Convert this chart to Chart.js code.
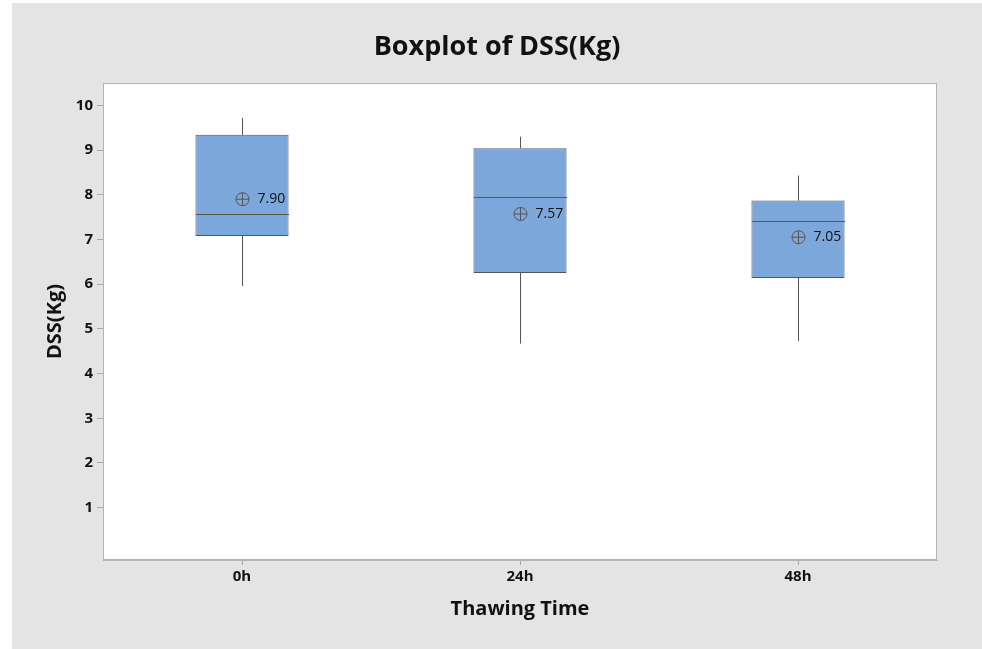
<!DOCTYPE html>
<html lang="en">
<head>
    <meta charset="utf-8">
    <title>Boxplot of DSS(Kg)</title>
    <script src="https://cdn.jsdelivr.net/npm/chart.js@4.4.1/dist/chart.umd.min.js"></script>
    <style>
        body { margin: 0; background: #fff; }
        canvas { display: block; }
    </style>
</head>
<body>
    <canvas id="chart" width="982" height="649"></canvas>
    <script>
        // values
        const categories = ['0h', '24h', '48h'];
        const whiskerLow = [5.96, 4.67, 4.73];
        const q1 = [7.08, 6.25, 6.14];
        const medians = [7.58, 7.95, 7.42];
        const q3 = [9.34, 9.04, 7.87];
        const whiskerHigh = [9.72, 9.30, 8.43];
        const means = [7.90, 7.57, 7.05];
        const yTicks = [1, 2, 3, 4, 5, 6, 7, 8, 9, 10];

        const lineCol = '#555555';
        const fontFam = '"Open Sans", "Noto Sans", sans-serif';

        // gray panel + plot frame + title
        const backdrop = {
            id: 'backdrop',
            beforeDraw(chart) {
                const c = chart.ctx, a = chart.chartArea;
                c.save();
                c.fillStyle = '#fff';
                c.fillRect(0, 0, chart.width, chart.height);
                c.fillStyle = '#e4e4e4';
                c.fillRect(12, 3, chart.width - 12, chart.height - 3);
                c.fillStyle = '#fff';
                c.fillRect(a.left, a.top, a.width, a.height);
                c.fillStyle = '#111';
                c.font = 'bold 27px ' + fontFam;
                c.textAlign = 'center';
                c.textBaseline = 'middle';
                c.fillText('Boxplot of DSS(Kg)', 497, 47);
                c.restore();
            },
            afterDraw(chart) {
                const c = chart.ctx, a = chart.chartArea;
                c.save();
                c.strokeStyle = '#b4b4b4';
                c.lineWidth = 1;
                c.strokeRect(a.left + 0.5, a.top + 0.5, a.width - 1, a.height - 1);
                c.restore();
            }
        };

        // whiskers, median lines and mean symbols
        const boxParts = {
            id: 'boxParts',
            afterDatasetsDraw(chart) {
                const c = chart.ctx;
                const xs = chart.scales.x, ys = chart.scales.y;
                const bars = chart.getDatasetMeta(0).data;
                c.save();
                c.strokeStyle = lineCol;
                c.lineWidth = 1;
                categories.forEach((cat, i) => {
                    const x = Math.round(xs.getPixelForValue(i)) + 0.5;
                    const half = bars[i].width / 2;
                    c.beginPath();
                    c.moveTo(x, ys.getPixelForValue(q3[i]));
                    c.lineTo(x, ys.getPixelForValue(whiskerHigh[i]));
                    c.moveTo(x, ys.getPixelForValue(q1[i]));
                    c.lineTo(x, ys.getPixelForValue(whiskerLow[i]));
                    const my = Math.round(ys.getPixelForValue(medians[i])) + 0.5;
                    c.moveTo(x - half, my);
                    c.lineTo(x + half, my);
                    c.stroke();

                    const py = ys.getPixelForValue(means[i]);
                    const r = 6.5;
                    c.beginPath();
                    c.arc(x, py, r, 0, Math.PI * 2);
                    c.moveTo(x - r, py);
                    c.lineTo(x + r, py);
                    c.moveTo(x, py - r);
                    c.lineTo(x, py + r);
                    c.stroke();

                    c.fillStyle = '#111';
                    c.font = '14px ' + fontFam;
                    c.textAlign = 'left';
                    c.textBaseline = 'middle';
                    c.fillText(means[i].toFixed(2), x + 15, py);
                });
                c.restore();
            }
        };

        const boxes = categories.map((c, i) => [q1[i], q3[i]]);

        new Chart(document.getElementById('chart'), {
            type: 'bar',
            data: {
                labels: categories,
                datasets: [{
                    data: boxes,
                    backgroundColor: '#7ba7da',
                    borderColor: lineCol,
                    borderWidth: 1,
                    borderSkipped: false,
                    categoryPercentage: 1,
                    barPercentage: 0.335
                }]
            },
            options: {
                responsive: false,
                animation: false,
                layout: { padding: { top: 83, right: 45, left: 0, bottom: 0 } },
                plugins: {
                    legend: { display: false },
                    tooltip: { enabled: false },
                    title: { display: false }
                },
                scales: {
                    x: {
                        grid: { offset: false, drawOnChartArea: false, drawTicks: true, tickLength: 5, color: '#aaa' },
                        border: { color: '#b4b4b4' },
                        ticks: { color: '#111', font: { family: fontFam, size: 15, weight: 'bold' }, padding: 3 },
                        title: {
                            display: true, text: 'Thawing Time', color: '#111',
                            font: { family: fontFam, size: 20, weight: 'bold' }, padding: { top: 4, bottom: 28 }
                        },
                        afterFit(s) { s.height = 89; }
                    },
                    y: {
                        min: -0.17,
                        max: 10.5,
                        afterBuildTicks(s) { s.ticks = yTicks.map(v => ({ value: v })); },
                        grid: { drawOnChartArea: false, drawTicks: true, tickLength: 6, color: '#aaa' },
                        border: { color: '#b4b4b4' },
                        ticks: { color: '#111', font: { family: fontFam, size: 15, weight: 'bold' }, padding: 4 },
                        title: {
                            display: true, text: 'DSS(Kg)', color: '#111',
                            font: { family: fontFam, size: 20, weight: 'bold' }, padding: { top: 43, bottom: 0 }
                        },
                        afterFit(s) { s.width = 103; }
                    }
                }
            },
            plugins: [backdrop, boxParts]
        });
    </script>
</body>
</html>
